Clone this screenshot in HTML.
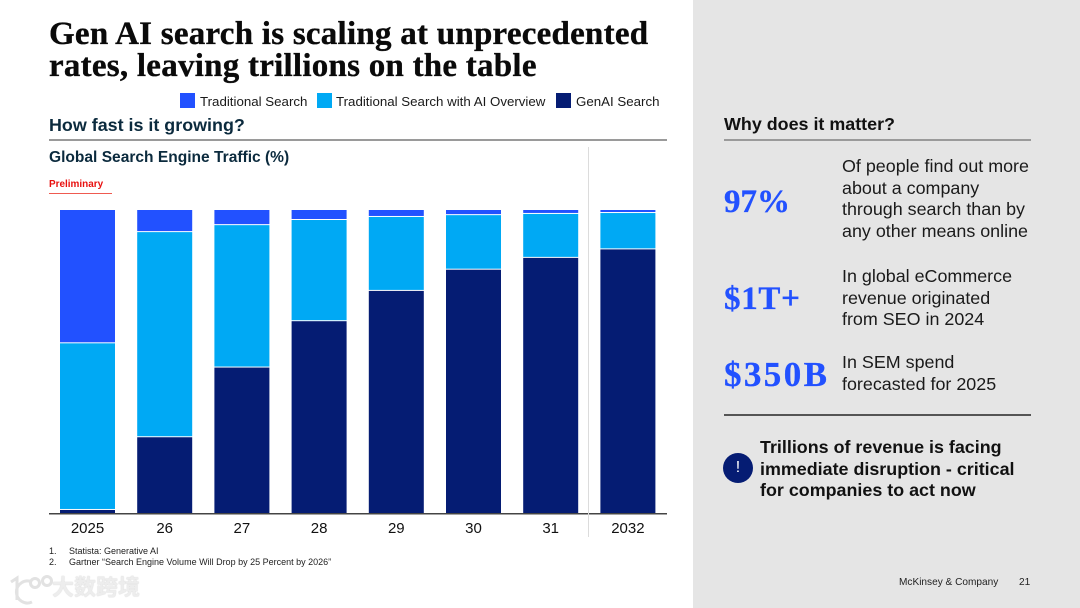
<!DOCTYPE html>
<html lang="en">
<head>
<meta charset="utf-8">
<title>Gen AI search is scaling at unprecedented rates</title>
<style>
html,body{margin:0;padding:0;background:#fff}
#slide{position:relative;width:1080px;height:608px;overflow:hidden;background:#fff;font-family:"Liberation Sans",sans-serif;color:#111}
#slide div{position:absolute;white-space:nowrap}
.rule{height:2px;background:#9a9a9a}
.stat{font-family:"Liberation Serif",serif;font-weight:700;font-size:33px;color:#2251ff;line-height:36px;-webkit-text-stroke:.3px #2251ff}
.desc{font-size:17.9px;line-height:21.7px;color:#1a1a1a}
.swatch{width:15px;height:15px}
.legend-text{font-size:13.3px;line-height:16px;color:#1a1a1a}
</style>
</head>
<body>
<div id="slide">
  <div style="left:693px;top:0;width:387px;height:608px;background:#e5e5e5"></div>

  <div style="left:49px;top:17.5px;font-family:'Liberation Serif',serif;font-weight:700;font-size:33px;letter-spacing:.25px;line-height:32.4px;color:#0a0a0a;-webkit-text-stroke:.35px #0a0a0a">Gen AI search is scaling at unprecedented<br>rates, leaving trillions on the table</div>

  <div class="swatch" style="left:180px;top:93px;background:#2251ff"></div>
  <div class="legend-text" style="left:200px;top:94px">Traditional Search</div>
  <div class="swatch" style="left:317px;top:93px;background:#00a9f4"></div>
  <div class="legend-text" style="left:336px;top:94px">Traditional Search with AI Overview</div>
  <div class="swatch" style="left:556px;top:93px;background:#051c73"></div>
  <div class="legend-text" style="left:576px;top:94px">GenAI Search</div>

  <div style="left:49px;top:115px;font-size:17.9px;line-height:21px;font-weight:700;color:#0b2a3d">How fast is it growing?</div>
  <div class="rule" style="left:49px;top:139px;width:618px"></div>
  <div style="left:49px;top:148px;font-size:15.55px;line-height:19px;font-weight:700;color:#0b2a3d">Global Search Engine Traffic (%)</div>
  <div style="left:49px;top:179px;font-size:9.95px;line-height:12px;font-weight:700;color:#e8100f">Preliminary</div>
  <div style="left:49px;top:193px;width:63px;height:1px;background:#ef5a50"></div>

  <svg id="chart" width="680" height="400" viewBox="0 0 680 400" style="position:absolute;left:0;top:145px" xmlns="http://www.w3.org/2000/svg"></svg>

  <div style="left:49px;top:546px;font-size:9px;line-height:11px;color:#222">1.</div>
  <div style="left:69px;top:546px;font-size:9px;line-height:11px;color:#222">Statista: Generative AI</div>
  <div style="left:49px;top:557px;font-size:9px;line-height:11px;color:#222">2.</div>
  <div style="left:69px;top:557px;font-size:9px;line-height:11px;color:#222">Gartner “Search Engine Volume Will Drop by 25 Percent by 2026”</div>

  <svg width="46" height="32" viewBox="0 0 46 32" style="position:absolute;left:8px;top:574px" xmlns="http://www.w3.org/2000/svg">
    <g fill="none" stroke="#e2e2e2" stroke-width="3">
      <path d="M3 8 L9 4 L9 26"/>
      <path d="M24 8 A11 11 0 1 0 24 28"/>
      <circle cx="27" cy="9" r="4.5"/>
      <circle cx="39" cy="7" r="4.5"/>
    </g>
  </svg>
  <div style="left:52px;top:576px;font-family:'Liberation Sans','Noto Sans CJK SC',sans-serif;font-size:22px;line-height:24px;font-weight:700;color:#ededed;text-shadow:0 0 1px #c4c4c4">大数跨境</div>

  <div style="left:724px;top:114px;font-size:17.9px;line-height:21px;font-weight:700;color:#111">Why does it matter?</div>
  <div class="rule" style="left:724px;top:139px;width:307px"></div>

  <div class="stat" style="left:724px;top:184px">97%</div>
  <div class="desc" style="left:842px;top:156px">Of people find out more<br>about a company<br>through search than by<br>any other means online</div>

  <div class="stat" style="left:724px;top:281px;letter-spacing:.7px">$1T+</div>
  <div class="desc" style="left:842px;top:266px">In global eCommerce<br>revenue originated<br>from SEO in 2024</div>

  <div class="stat" style="left:724px;top:357px;font-size:35px;letter-spacing:2.4px">$350B</div>
  <div class="desc" style="left:842px;top:352px">In SEM spend<br>forecasted for 2025</div>

  <div style="left:724px;top:414px;width:307px;height:2px;background:#555"></div>
  <div style="left:723px;top:453px;width:30px;height:30px;border-radius:50%;background:#051c73;color:#fff;font-size:16px;line-height:30px;text-align:center;font-weight:400">!</div>
  <div style="left:760px;top:437px;font-size:17.9px;line-height:21.7px;font-weight:700;color:#111">Trillions of revenue is facing<br>immediate disruption - critical<br>for companies to act now</div>

  <div style="left:899px;top:576px;font-size:10.1px;line-height:13px;color:#222">McKinsey &amp; Company</div>
  <div style="left:1019px;top:576px;font-size:10.1px;line-height:13px;color:#222">21</div>
</div>

<script>
const categories = ["2025", "26", "27", "28", "29", "30", "31", "2032"];
const traditionalSearch = [44, 7.3, 5, 3.3, 2.3, 1.7, 1.3, 1];
const aiOverview = [55, 67.7, 47, 33.4, 24.4, 18, 14.5, 12];
const genAiSearch = [1, 25, 48, 63.3, 73.3, 80.3, 84.2, 87];

const NS = "http://www.w3.org/2000/svg";
const svg = document.getElementById("chart");
const plot = { left: 49, right: 667, top: 65, bottom: 368 };
const firstCenter = 87.5, step = 77.2, barWidth = 55;

function xCenter(i) { return firstCenter + i * step; }
function yScale(v) { return plot.bottom - (v / 100) * (plot.bottom - plot.top); }

function addRect(x, y, w, h, fill) {
  const r = document.createElementNS(NS, "rect");
  r.setAttribute("x", x);
  r.setAttribute("y", y);
  r.setAttribute("width", w);
  r.setAttribute("height", Math.max(0, h));
  r.setAttribute("fill", fill);
  svg.appendChild(r);
  return r;
}

const stackOrder = [
  { key: "genai", values: genAiSearch, fill: "#051c73" },
  { key: "ai-overview", values: aiOverview, fill: "#00a9f4" },
  { key: "traditional", values: traditionalSearch, fill: "#2251ff" }
];

categories.forEach(function (cat, i) {
  let cumulative = 0;
  stackOrder.forEach(function (s) {
    const y0 = yScale(cumulative);
    const y1 = yScale(cumulative + s.values[i]);
    const gap = cumulative > 0 ? 1 : 0;
    const bar = addRect(xCenter(i) - barWidth / 2, y1, barWidth, y0 - y1 - gap, s.fill);
    
    
    cumulative += s.values[i];
  });
  const label = document.createElementNS(NS, "text");
  label.setAttribute("x", xCenter(i));
  label.setAttribute("y", plot.bottom + 20);
  label.setAttribute("text-anchor", "middle");
  label.setAttribute("font-family", "Liberation Sans, sans-serif");
  label.setAttribute("font-size", "15");
  label.setAttribute("fill", "#111");
  label.textContent = cat;
  
  
  svg.appendChild(label);
});

const axis = addRect(plot.left, plot.bottom, plot.right - plot.left, 1.5, "#444");



const divider = addRect(588, 2, 1, 390, "#dcdcdc");


</script>
</body>
</html>
